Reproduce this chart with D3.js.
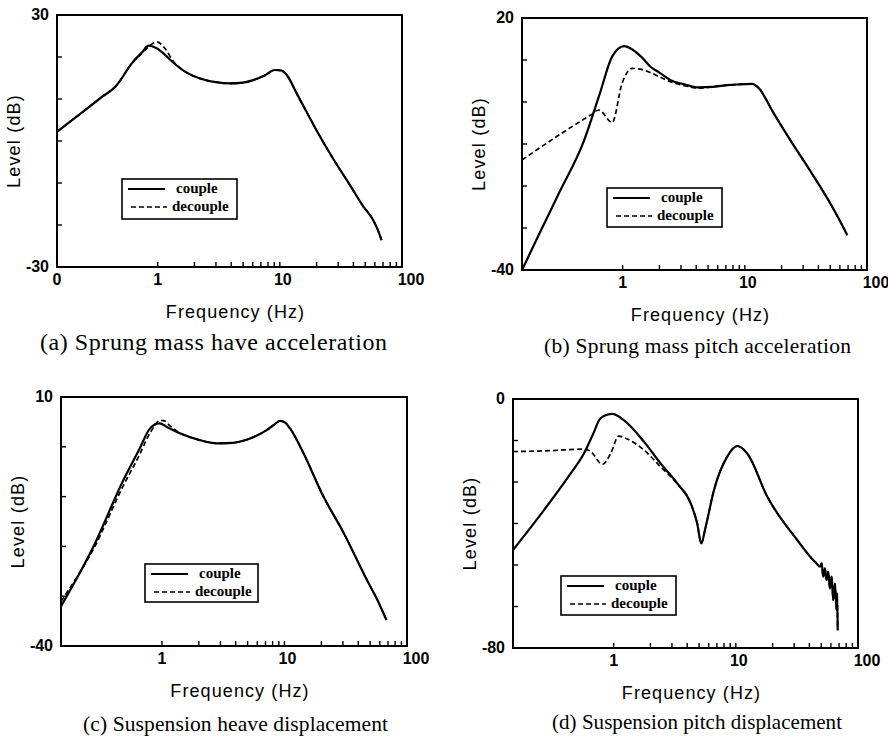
<!DOCTYPE html>
<html>
<head>
<meta charset="utf-8">
<script src="https://cdn.jsdelivr.net/npm/d3@7"></script>
<style>
  body { margin: 0; background: #fff; }
</style>
</head>
<body>
<svg id="chart" width="888" height="740"></svg>
<script>
// ---- data ----
// (a) sprung mass heave acceleration
var aFreq    = [0.15, 0.25, 0.35, 0.45, 0.63, 0.75, 0.84, 0.98, 1.15, 1.34, 1.7, 2.22, 3.0, 3.9, 5.0, 6.06, 7.5, 9.1, 10.2, 11.4, 13.7, 16.5, 20, 27, 37.5, 48, 58, 63, 68]
var aCouple  = [2.2, 7.2, 10.5, 12.9, 18.9, 21.2, 22.7, 22.1, 20.5, 18.7, 16.4, 14.9, 14.0, 13.7, 13.9, 14.5, 15.6, 16.9, 16.8, 15.7, 11.4, 7.0, 2.5, -4.0, -10.5, -15.5, -18.8, -21.0, -23.6]
var aDecFreq = [0.15, 0.25, 0.35, 0.45, 0.63, 0.75, 0.84, 0.98, 1.15, 1.34]
var aDecLow  = [2.2, 7.2, 10.5, 12.9, 18.9, 21.0, 22.4, 23.6, 22.0, 19.0]

// (b) sprung mass pitch acceleration
var bFreq    = [0.15, 0.2, 0.3, 0.48, 0.65, 0.82, 1.03, 1.2, 1.45, 1.69, 2.0, 2.47, 3.2, 4.08, 5.5, 7.2, 9.0, 11.5, 13, 17, 23.7, 35, 50.4, 60, 68.9]
var bCouple  = [-40, -32.4, -21.8, -9.4, 2.0, 10.8, 13.3, 12.5, 10.5, 8.4, 7.0, 5.2, 4.2, 3.5, 3.6, 4.0, 4.2, 4.3, 3.3, -2.4, -9.2, -16.8, -24.3, -28.3, -31.7]
var bDecFreq = [0.15, 0.311, 0.547, 0.64, 0.82, 0.99, 1.2, 1.45, 1.69, 2.0, 2.47, 3.2, 4.08]
var bDecLow  = [-13.8, -7.6, -3.1, -1.9, -4.9, 4.5, 8.0, 7.7, 7.0, 6.0, 4.8, 3.9, 3.3]

// (c) suspension heave displacement
var cFreq    = [0.15, 0.275, 0.484, 0.65, 0.8, 0.95, 1.15, 1.4, 2.0, 2.8, 3.8, 4.9, 6.0, 7.2, 8.3, 9.2, 10.2, 11.1, 14.3, 20.8, 30, 47, 58, 68]
var cCouple  = [-32, -20.1, -6.7, -0.6, 3.7, 4.7, 3.7, 2.7, 1.4, 0.7, 0.8, 1.4, 2.3, 3.4, 4.5, 5.2, 4.8, 3.7, -1.3, -10.0, -17.0, -26.7, -31.0, -34.8]
var cDecFreq = [0.15, 0.275, 0.484, 0.65, 0.8, 0.97, 1.05, 1.15, 1.4]
var cDecLow  = [-31, -20.6, -7.8, -1.8, 2.8, 5.3, 5.2, 4.3, 2.8]

// (d) suspension pitch displacement
var dFreq    = [0.15, 0.269, 0.445, 0.571, 0.68, 0.78, 0.975, 1.21, 1.77, 2.42, 3.32, 4.27, 4.83, 5.21, 5.66, 6.62, 8.5, 10.3, 12.4, 18.1, 31.8, 44.4,
                45.8, 48.8, 50.4, 51.9, 53.6, 55.3, 57.1, 58.9, 60.8, 62.7, 64.7, 66.8, 67.5, 68.2]
var dCouple  = [-48.5, -35.7, -23.9, -17.5, -11.2, -6.2, -4.8, -6.8, -13.7, -20.7, -27.1, -33.5, -40, -46.4, -41.1, -29.3, -18.5, -15.1, -17.5, -31.4, -45.3, -52.3,
                -52.8, -53.9, -52.8, -57.1, -54.4, -58.2, -55.5, -60.9, -57.1, -64.6, -59.3, -67.8, -62.5, -74.3]
var dDecFreq = [0.15, 0.3, 0.571, 0.65, 0.81, 0.946, 1.1, 1.25, 1.77, 2.42, 3.32]
var dDecLow  = [-16.9, -16.6, -16.1, -16.9, -21.0, -17.5, -11.9, -12.6, -16.4, -21.8, -27.3]

// axis ticks
var freqDomain = [0.15, 100]
var majorTicks = [1, 10, 100]
var minorTicks = [2, 3, 4, 5, 6, 7, 8, 9, 20, 30, 40, 50, 60, 70, 80, 90]
var legendNames = ["couple", "decouple"]

var captions = [
  "(a)  Sprung mass have acceleration",
  "(b)  Sprung mass pitch acceleration",
  "(c)  Suspension heave displacement",
  "(d)  Suspension pitch displacement"
]

function series(freq, vals) {
  return freq.map(function (f, i) { return { f: f, v: vals[i] } })
}
// decouple = its own low-frequency part, then the couple curve where both coincide
function decouple(decF, decV, freq, couple) {
  var last = decF[decF.length - 1]
  var low = series(decF, decV)
  var tail = series(freq, couple).filter(function (d) { return d.f > last })
  return low.concat(tail)
}

var panels = [
  { box: [57, 15, 402, 267], y: [-30, 30], yTicks: d3.range(-20, 30, 10), zeroLabel: true,
    couple: series(aFreq, aCouple), dec: decouple(aDecFreq, aDecLow, aFreq, aCouple),
    legend: [122, 179, 115, 40], cap: captions[0], capX: 40, capY: 350, capSize: 24, capW: 347 },
  { box: [522, 18, 867, 270], y: [-40, 20], yTicks: d3.range(-30, 20, 10), zeroLabel: false,
    couple: series(bFreq, bCouple), dec: decouple(bDecFreq, bDecLow, bFreq, bCouple),
    legend: [607, 188, 115, 39], cap: captions[1], capX: 544, capY: 353, capSize: 21.5, capW: 307 },
  { box: [61, 397, 407, 646], y: [-40, 10], yTicks: d3.range(-30, 10, 10), zeroLabel: false,
    couple: series(cFreq, cCouple), dec: decouple(cDecFreq, cDecLow, cFreq, cCouple),
    legend: [145, 564, 113, 38], cap: captions[2], capX: 83, capY: 731, capSize: 21.5, capW: 305 },
  { box: [513, 399, 858, 648], y: [-80, 0], yTicks: d3.range(1, 6).map(function (k) { return -80 + k * 80 / 6 }), zeroLabel: false,
    couple: series(dFreq, dCouple), dec: decouple(dDecFreq, dDecLow, dFreq, dCouple),
    legend: [561, 576, 115, 39], cap: captions[3], capX: 552, capY: 729, capSize: 21, capW: 290 }
]

var svg = d3.select("#chart")
var sans = "'Liberation Sans', Arial, sans-serif"
var serif = "'Liberation Serif', 'Times New Roman', serif"

panels.forEach(function (p) {
  var x0 = p.box[0], y0 = p.box[1], x1 = p.box[2], y1 = p.box[3]
  var x = d3.scaleLog().domain(freqDomain).range([x0, x1])
  var y = d3.scaleLinear().domain(p.y).range([y1, y0])
  var g = svg.append("g")

  // inward ticks
  g.selectAll(".xt")
    .data(majorTicks.concat(minorTicks))
    .enter().append("line")
    .attr("x1", function (d) { return x(d) }).attr("x2", function (d) { return x(d) })
    .attr("y1", y1).attr("y2", y1 - 5)
    .attr("stroke", "#000").attr("stroke-width", 1.4)
  g.selectAll(".yt")
    .data(p.yTicks)
    .enter().append("line")
    .attr("x1", x0).attr("x2", x0 + 5)
    .attr("y1", function (d) { return y(d) }).attr("y2", function (d) { return y(d) })
    .attr("stroke", "#000").attr("stroke-width", 1.4)

  // curves
  var line = d3.line()
    .x(function (d) { return x(d.f) })
    .y(function (d) { return y(d.v) })
    .curve(d3.curveMonotoneX)

  g.append("path").datum(p.dec)
    .attr("d", line).attr("fill", "none")
    .attr("stroke", "#000").attr("stroke-width", 1.7)
    .attr("stroke-dasharray", "5,3")
  g.append("path").datum(p.couple)
    .attr("d", line).attr("fill", "none")
    .attr("stroke", "#000").attr("stroke-width", 2.2)

  // frame
  g.append("rect")
    .attr("x", x0).attr("y", y0)
    .attr("width", x1 - x0).attr("height", y1 - y0)
    .attr("fill", "none").attr("stroke", "#000").attr("stroke-width", 2)

  // tick labels
  var xl = majorTicks.map(function (d) { return { v: d, t: String(d) } })
  if (p.zeroLabel) xl.unshift({ v: freqDomain[0], t: "0" })
  g.selectAll(".xl")
    .data(xl)
    .enter().append("text")
    .attr("x", function (d) { return x(d.v) + (d.v === 100 ? 9 : d.v === 10 ? 3 : 0) })
    .attr("y", y1 + 18)
    .attr("text-anchor", "middle")
    .attr("font-family", sans).attr("font-size", 16).attr("font-weight", "bold")
    .text(function (d) { return d.t })

  g.selectAll(".yl")
    .data(p.y)
    .enter().append("text")
    .attr("x", x0 - 8)
    .attr("y", function (d) { return y(d) + 5 })
    .attr("text-anchor", "end")
    .attr("font-family", sans).attr("font-size", 16).attr("font-weight", "bold")
    .text(function (d) { return d })

  // axis titles
  g.append("text")
    .attr("x", (x0 + x1) / 2 + 6).attr("y", y1 + 51)
    .attr("text-anchor", "middle")
    .attr("font-family", sans).attr("font-size", 18).attr("letter-spacing", 1.1)
    .text("Frequency (Hz)")
  g.append("text")
    .attr("transform", "translate(" + (x0 - 37) + "," + ((y0 + y1) / 2) + ") rotate(-90)")
    .attr("text-anchor", "middle")
    .attr("font-family", sans).attr("font-size", 18).attr("letter-spacing", 1.2)
    .text("Level (dB)")

  // legend
  var L = p.legend
  var lg = g.append("g").attr("transform", "translate(" + L[0] + "," + L[1] + ")")
  lg.append("rect").attr("width", L[2]).attr("height", L[3])
    .attr("fill", "#fff").attr("stroke", "#000").attr("stroke-width", 1.6)
  lg.selectAll("line")
    .data(legendNames)
    .enter().append("line")
    .attr("x1", function (d, i) { return 6 + i * 3 }).attr("x2", function (d, i) { return 43 + i * 2 })
    .attr("y1", function (d, i) { return 10 + i * 18 }).attr("y2", function (d, i) { return 10 + i * 18 })
    .attr("stroke", "#000").attr("stroke-width", function (d, i) { return i ? 1.7 : 2.2 })
    .attr("stroke-dasharray", function (d, i) { return i ? "5,3" : null })
  lg.selectAll("text")
    .data(legendNames)
    .enter().append("text")
    .attr("x", function (d, i) { return i ? 50 : 54 })
    .attr("y", function (d, i) { return 14 + i * 18 })
    .attr("font-family", serif).attr("font-size", 15).attr("font-weight", "bold")
    .text(function (d) { return d })

  // caption
  g.append("text")
    .attr("x", p.capX).attr("y", p.capY)
    .attr("font-family", serif).attr("font-size", p.capSize)
    .attr("textLength", p.capW).attr("lengthAdjust", "spacing")
    .text(p.cap)
})
</script>
</body>
</html>
